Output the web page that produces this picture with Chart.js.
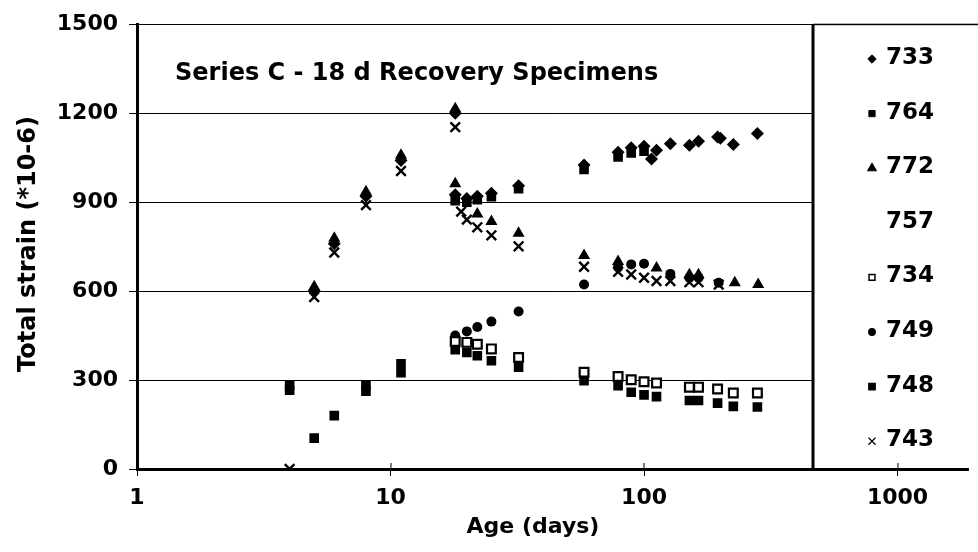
<!DOCTYPE html>
<html><head><meta charset="utf-8">
<script src="https://cdn.jsdelivr.net/npm/chart.js@4.4.0/dist/chart.umd.min.js"></script>
<style>html,body{margin:0;padding:0;background:#fff;}canvas{display:block;}</style>
</head><body>
<canvas id="c" width="978" height="552"></canvas>
<script>
// ---------- data ----------
const chartTitle = 'Series C - 18 d Recovery Specimens';
const xTitle = 'Age (days)';
const yTitle = 'Total strain (*10-6)';
const xTickValues = [1, 10, 100, 1000];
const yTickValues = [0, 300, 600, 900, 1200, 1500];
const seriesNames = ['733', '764', '772', '757', '734', '749', '748', '743'];

const ages733 = [5, 6, 8, 11, 18, 18, 20, 22, 25, 32, 58, 79, 89, 100, 107, 112, 127, 151, 164, 195, 200, 225, 280];
const vals733 = [600, 760, 920, 1040, 1200, 925, 912, 920, 930, 955, 1025, 1068, 1083, 1088, 1045, 1075, 1097, 1092, 1105, 1120, 1115, 1094, 1131];

const ages764 = [4, 8, 11, 18, 20, 22, 25, 32, 58, 79, 89, 100];
const vals764 = [282, 282, 355, 905, 900, 908, 918, 945, 1010, 1052, 1066, 1072];

const ages772 = [5, 6, 8, 11, 18, 18, 22, 25, 32, 58, 79, 112, 151, 164, 228, 282];
const vals772 = [615, 778, 935, 1058, 1215, 962, 860, 835, 795, 720, 700, 678, 655, 655, 628, 622];

const ages757 = [];
const vals757 = [];

const ages734 = [18, 20, 22, 25, 32, 58, 79, 89, 100, 112, 151, 164, 195, 225, 280];
const vals734 = [430, 427, 421, 405, 376, 326, 312, 301, 294, 290, 276, 276, 270, 256, 256];

const ages749 = [18, 20, 22, 25, 32, 58, 79, 89, 100, 127, 151, 164, 197];
const vals749 = [450, 464, 479, 497, 531, 622, 680, 690, 692, 658, 645, 645, 628];

const ages748 = [4, 5, 6, 8, 11, 18, 20, 22, 25, 32, 58, 79, 89, 100, 112, 151, 164, 195, 225, 280];
const vals748 = [266, 104, 180, 262, 325, 402, 393, 382, 365, 343, 298, 281, 259, 250, 244, 231, 231, 222, 211, 209];

const ages743 = [4, 5, 6, 8, 11, 18, 19, 20, 22, 25, 32, 58, 79, 89, 100, 112, 127, 151, 164, 197];
const vals743 = [0, 580, 730, 890, 1005, 1153, 868, 841, 815, 788, 751, 682, 665, 656, 645, 634, 634, 630, 630, 622];

// ---------- build ----------
const pairs = (a, v) => a.map((x, i) => ({ x: x, y: v[i] }));
const FONT = '"DejaVu Sans", sans-serif';

const styleMap = {
  '733': { pointStyle: 'rectRot', radius: 6.5, fill: '#000', bw: 0, lr: 4.2 },
  '764': { pointStyle: 'rect', radius: 6.8, fill: '#000', bw: 0, lr: 4.4 },
  '772': { pointStyle: 'triangle', radius: 7, fill: '#000', bw: 0, lr: 5.2 },
  '757': { pointStyle: false, radius: 0, fill: '#000', bw: 0, lr: 0 },
  '734': { pointStyle: 'rect', radius: 6.2, fill: '#fff', bw: 2.2, lr: 4.2 },
  '749': { pointStyle: 'circle', radius: 5, fill: '#000', bw: 0, lr: 3.2 },
  '748': { pointStyle: 'rect', radius: 6.8, fill: '#000', bw: 0, lr: 4.4 },
  '743': { pointStyle: 'crossRot', radius: 6.8, fill: '#000', bw: 2.4, lr: 5 }
};
const dataMap = {
  '733': [ages733, vals733], '764': [ages764, vals764], '772': [ages772, vals772],
  '757': [ages757, vals757], '734': [ages734, vals734], '749': [ages749, vals749],
  '748': [ages748, vals748], '743': [ages743, vals743]
};

const datasets = seriesNames.map(n => {
  const s = styleMap[n];
  return {
    label: n,
    data: pairs(dataMap[n][0], dataMap[n][1]),
    showLine: false,
    pointStyle: s.pointStyle,
    pointRadius: s.radius,
    pointHoverRadius: s.radius,
    backgroundColor: s.fill,
    borderColor: '#000',
    borderWidth: s.bw,
    pointBorderWidth: s.bw
  };
});

const overlay = {
  id: 'overlay',
  afterDatasetsDraw(chart) {
    const ctx = chart.ctx, a = chart.chartArea;
    ctx.save();
    // chart title inside plot area
    ctx.fillStyle = '#000';
    ctx.font = 'bold 24px ' + FONT;
    ctx.textBaseline = 'alphabetic';
    ctx.textAlign = 'left';
    ctx.fillText(chartTitle, 175, 80);

    // legend box
    const lx = 813;
    ctx.fillStyle = '#fff';
    ctx.fillRect(lx, a.top + 1, chart.width - lx, a.bottom - a.top - 2);
    ctx.fillStyle = '#000';
    ctx.fillRect(lx - 1.5, a.top, 3, a.bottom - a.top);
    ctx.fillRect(lx, a.top - 0.5, chart.width - lx, 1.5);

    const y0 = 58, dy = 54.6;
    seriesNames.forEach((n, i) => {
      const s = styleMap[n];
      const y = y0 + i * dy;
      if (s.pointStyle) {
        ctx.fillStyle = s.fill;
        ctx.strokeStyle = '#000';
        ctx.lineWidth = n === '743' ? 1.3 : (n === '734' ? 1.5 : 0);
        Chart.helpers.drawPoint(ctx, {
          pointStyle: s.pointStyle, radius: s.lr, rotation: 0,
          borderWidth: ctx.lineWidth
        }, 872, y + 1);
      }
      ctx.fillStyle = '#000';
      ctx.font = 'bold 23px ' + FONT;
      ctx.textBaseline = 'middle';
      ctx.textAlign = 'left';
      ctx.fillText(n, 886, y);
    });

    // axis titles
    ctx.font = 'bold 22px ' + FONT;
    ctx.textAlign = 'center';
    ctx.textBaseline = 'middle';
    ctx.fillText(xTitle, 533, 527);
    ctx.font = 'bold 24px ' + FONT;
    ctx.save();
    ctx.translate(29, 244);
    ctx.rotate(-Math.PI / 2);
    ctx.fillText(yTitle, 0, 0);
    ctx.restore();

    // inner parts of x tick marks
    const xs = chart.scales.x;
    ctx.fillStyle = '#000';
    xTickValues.forEach(v => {
      const px = xs.getPixelForValue(v);
      ctx.fillRect(Math.round(px) - 0.5, a.bottom - 6, 1, 6);
    });
    ctx.restore();
  }
};

new Chart(document.getElementById('c'), {
  type: 'scatter',
  data: { datasets },
  plugins: [overlay],
  options: {
    responsive: false,
    animation: false,
    devicePixelRatio: 1,
    layout: { padding: { top: 21, right: 0, left: 0, bottom: 0 } },
    plugins: { legend: { display: false }, tooltip: { enabled: false }, title: { display: false } },
    scales: {
      x: {
        type: 'logarithmic',
        min: 1,
        max: 1910,
        afterBuildTicks: s => { s.ticks = xTickValues.map(v => ({ value: v })); },
        afterFit: s => { s.height = 83; },
        grid: { drawOnChartArea: false, drawTicks: true, tickLength: 7, color: '#000', lineWidth: 1 },
        border: { display: true, color: '#000', width: 3 },
        ticks: {
          color: '#000', padding: 9, maxRotation: 0, autoSkip: false,
          font: { family: FONT, weight: 'bold', size: 22 },
          callback: v => String(v)
        }
      },
      y: {
        min: 0,
        max: 1500,
        afterBuildTicks: s => { s.ticks = yTickValues.map(v => ({ value: v })); },
        afterFit: s => { s.width = 137; },
        grid: { drawOnChartArea: true, drawTicks: true, tickLength: 8, color: '#000', lineWidth: 1 },
        border: { display: true, color: '#000', width: 3 },
        ticks: {
          color: '#000', padding: 11,
          font: { family: FONT, weight: 'bold', size: 22 },
          callback: v => String(v)
        }
      }
    }
  }
});
</script>
</body></html>
